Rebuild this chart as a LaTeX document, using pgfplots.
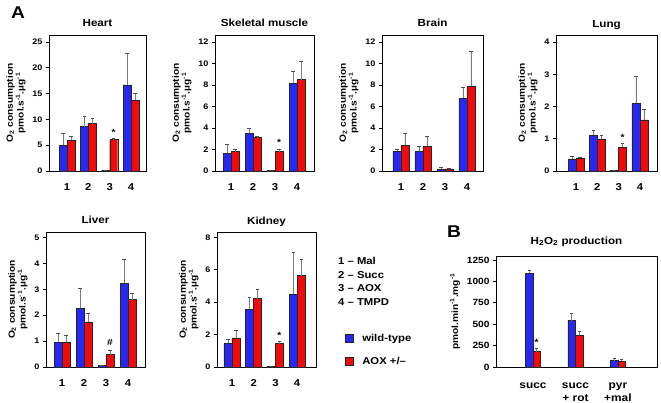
\documentclass[border=0pt]{standalone}
\usepackage{fontspec}
\setmainfont[FakeStretch=1.13]{Liberation Sans}
\usepackage{pgfplots}
\pgfplotsset{compat=1.18}

\definecolor{wtblue}{RGB}{40,40,245}
\definecolor{aoxred}{RGB}{240,10,10}
\definecolor{errgray}{RGB}{125,125,125}

\pgfplotsset{
  panel/.style={
    scale only axis, clip=false,
    ybar=0pt, bar width=8pt, ymin=0,
    axis line style={line width=0.9pt},
    tick align=outside, tick pos=left, major tick length=3pt,
    ytick style={line width=0.8pt, black},
    xtick style={draw=none},
    xtick={1,2,3,4},
    /pgf/number format/assume math mode=true,
    /pgf/number format/1000 sep={},
    yticklabel style={font=\fontsize{8}{8}\selectfont\bfseries},
    xticklabel style={font=\fontsize{10}{10}\selectfont\bfseries, yshift=-6pt},
    title style={font=\fontsize{10.3}{12}\selectfont\bfseries, at={(0.5,1)}, anchor=base, yshift=2pt},
    ylabel style={font=\fontsize{9}{9}\selectfont\bfseries, align=center},
    ylabel={O\textsubscript{2} consumption\\pmol.s\textsuperscript{-1}.µg\textsuperscript{-1}},
    every axis plot/.append style={
      /pgfplots/error bars/y dir=plus,
      /pgfplots/error bars/y explicit,
      /pgfplots/error bars/error bar style={errgray, line width=0.7pt},
      /pgfplots/error bars/error mark options={rotate=90, mark size=1.6pt, black!70, line width=0.6pt}},
  },
  wt/.style={fill=wtblue, draw=black!85, line width=0.4pt},
  aox/.style={fill=aoxred, draw=black!85, line width=0.4pt},
}
\tikzset{sig/.style={anchor=base, yshift=3pt, xshift=4pt, font=\fontsize{9}{9}\selectfont\bfseries}}

\begin{document}
\begin{tikzpicture}
\path[use as bounding box] (0,0) rectangle (661pt,402pt);

% Heart
\begin{axis}[panel, at={(49pt,231pt)}, anchor=south west, width=97pt, height=136pt,
  xmin=0.155, xmax=4.70, ymax=26.36, ytick={0,5,10,15,20,25}, title={Heart}]
\addplot[wt] coordinates {(1,5.0)+-(0,2.3) (2,8.6)+-(0,2.0) (3,0.15)+-(0,0.05) (4,16.7)+-(0,6.1)};
\addplot[aox] coordinates {(1,6.0)+-(0,0.7) (2,9.2)+-(0,1.0) (3,6.1)+-(0,0.15) (4,13.7)+-(0,1.3)};
\node[sig] at (axis cs:3,6.25) {*};
\end{axis}

% Skeletal muscle
\begin{axis}[panel, at={(215pt,231pt)}, anchor=south west, width=99pt, height=136pt,
  xmin=0.27, xmax=4.77, ymax=12.65, ytick={0,2,4,6,8,10,12}, title={Skeletal muscle}]
\addplot[wt] coordinates {(1,1.65)+-(0,0.82) (2,3.5)+-(0,0.5) (3,0.04)+-(0,0) (4,8.15)+-(0,1.1)};
\addplot[aox] coordinates {(1,1.8)+-(0,0.2) (2,3.15)+-(0,0.05) (3,1.8)+-(0,0.25) (4,8.5)+-(0,1.7)};
\node[sig] at (axis cs:3,2.05) {*};
\end{axis}

% Brain
\begin{axis}[panel, at={(382pt,231pt)}, anchor=south west, width=101pt, height=136pt,
  xmin=0.136, xmax=4.73, ymax=12.65, ytick={0,2,4,6,8,10,12}, title={Brain}]
\addplot[wt] coordinates {(1,1.86)+-(0,0.2) (2,1.82)+-(0,0.44) (3,0.15)+-(0,0.15) (4,6.77)+-(0,1.0)};
\addplot[aox] coordinates {(1,2.38)+-(0,1.08) (2,2.29)+-(0,0.9) (3,0.19)+-(0,0.09) (4,7.86)+-(0,3.24)};
\end{axis}

% Lung
\begin{axis}[panel, at={(556pt,231pt)}, anchor=south west, width=101pt, height=136pt,
  xmin=0.06, xmax=4.80, ymax=4.22, ytick={0,1,2,3,4}, title={Lung}]
\addplot[wt] coordinates {(1,0.38)+-(0,0.07) (2,1.11)+-(0,0.15) (3,0.02)+-(0,0) (4,2.1)+-(0,0.84)};
\addplot[aox] coordinates {(1,0.41)+-(0,0.03) (2,1.0)+-(0,0.12) (3,0.73)+-(0,0.13) (4,1.59)+-(0,0.31)};
\node[sig] at (axis cs:3,0.86) {*};
\end{axis}

% Liver
\begin{axis}[panel, at={(46pt,35pt)}, anchor=south west, width=99pt, height=135pt,
  xmin=0.27, xmax=4.77, ymax=5.21, ytick={0,1,2,3,4,5}, title={Liver}]
\addplot[wt] coordinates {(1,0.96)+-(0,0.34) (2,2.26)+-(0,0.79) (3,0.07)+-(0,0) (4,3.23)+-(0,0.91)};
\addplot[aox] coordinates {(1,0.96)+-(0,0.27) (2,1.74)+-(0,0.32) (3,0.48)+-(0,0.16) (4,2.6)+-(0,0.25)};
\node[sig, yshift=2pt] at (axis cs:3,0.64) {\#};
\end{axis}

% Kidney
\begin{axis}[panel, at={(217pt,35pt)}, anchor=south west, width=99pt, height=135pt,
  xmin=0.31, xmax=4.87, ymax=8.33, ytick={0,2,4,6,8}, title={Kidney},
  legend style={at={(axis description cs:1.29,0.26)}, anchor=north west, draw=none, fill=none,
    font=\fontsize{10}{10}\selectfont\bfseries, row sep=10pt, inner sep=0pt},
  legend cell align=left]
\addplot[wt, legend image code/.code={\draw[fill=wtblue, draw=black!85] (1.5pt,-4pt) rectangle (9.5pt,4pt);}]
  coordinates {(1,1.46)+-(0,0.27) (2,3.56)+-(0,0.72) (3,0.04)+-(0,0) (4,4.49)+-(0,2.6)};
\addlegendentry{\hspace{7pt}wild-type}
\addplot[aox, legend image code/.code={\draw[fill=aoxred, draw=black!85] (1.5pt,-4pt) rectangle (9.5pt,4pt);}]
  coordinates {(1,1.79)+-(0,0.47) (2,4.22)+-(0,0.55) (3,1.44)+-(0,0.16) (4,5.64)+-(0,1.03)};
\addlegendentry{\hspace{7pt}AOX +/–}
\node[sig] at (axis cs:3,1.6) {*};
\end{axis}

% B: H2O2 production
\begin{axis}[panel, at={(496pt,35pt)}, anchor=south west, width=161pt, height=111pt,
  bar width=7.5pt, xmin=0.13, xmax=3.92, ymax=1297, ytick={0,250,500,750,1000,1250},
  xtick={1,2,3}, xticklabels={succ,{succ\\+ rot},{pyr\\+mal}},
  xticklabel style={align=center, font=\fontsize{10.5}{13}\selectfont\bfseries, yshift=-3pt},
  yticklabel style={font=\fontsize{9}{9}\selectfont\bfseries},
  title={H\textsubscript{2}O\textsubscript{2} production},
  title style={yshift=4pt},
  ylabel={pmol.min\textsuperscript{-1}.mg\textsuperscript{-1}}]
\addplot[wt] coordinates {(1,1095)+-(0,39) (2,543)+-(0,90) (3,74)+-(0,27)};
\addplot[aox] coordinates {(1,179)+-(0,42) (2,369)+-(0,54) (3,70)+-(0,23)};
\node[sig, xshift=-0.25pt] at (axis cs:1,221) {*};
\end{axis}

% legend of conditions and panel letters
\node[anchor=north west, inner sep=0pt, align=left, font=\fontsize{10}{13.6}\selectfont\bfseries]
  at (338pt,145pt) {1 – Mal\\2 – Succ\\3 – AOX\\4 – TMPD};
\node[font=\fontsize{17}{17}\selectfont\bfseries] at (18pt,389pt) {A};
\node[font=\fontsize{17}{17}\selectfont\bfseries] at (454pt,170pt) {B};
\end{tikzpicture}
\end{document}
